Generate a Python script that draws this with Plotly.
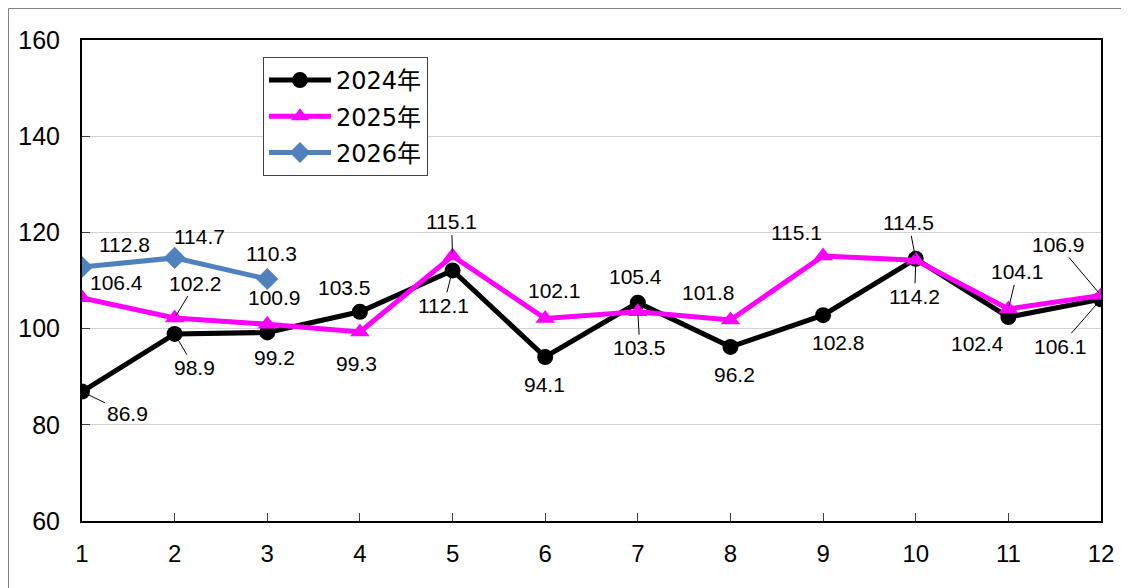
import plotly.graph_objects as go

months = [1, 2, 3, 4, 5, 6, 7, 8, 9, 10, 11, 12]
tick_labels = ["1", "2", "3", "4", "5", "6", "7", "8", "9", "10", "11", "12"]
y2024 = [86.9, 98.9, 99.2, 103.5, 112.1, 94.1, 105.4, 96.2, 102.8, 114.5, 102.4, 106.1]
y2025 = [106.4, 102.2, 100.9, 99.3, 115.1, 102.1, 103.5, 101.8, 115.1, 114.2, 104.1, 106.9]
y2026 = [112.8, 114.7, 110.3]
names = ["2024年", "2025年", "2026年"]

# label placement (pixel offsets of label centre from the point; leader flag)
off2024 = [(45, 22, 1), (20, 34, 1), (7, 25, 0), (-15, -24, 0), (-9, 35, 1), (-1, 28, 0),
           (-2, -26, 0), (4, 28, 0), (15, 27, 0), (-7, -36, 1), (-31, 26, 0), (-41, 47, 1)]
off2025 = [(34, -15, 0), (21, -35, 1), (7, -27, 0), (-3, 32, 0), (-1, -34, 1), (9, -28, 0),
           (2, 36, 1), (-22, -27, 0), (-27, -23, 0), (-1, 36, 1), (9, -37, 1), (-43, -51, 1)]
off2026 = [(42, -23, 0), (25, -21, 0), (4, -26, 0)]

fig = go.Figure()
styles = [
    dict(color="#000000", symbol="circle", size=16),
    dict(color="#FF00FF", symbol="triangle-up", size=17),
    dict(color="#4F81BD", symbol="diamond", size=17),
]
series = [y2024, y2025, y2026]
for i, (ys, st, nm) in enumerate(zip(series, styles, names)):
    fig.add_trace(go.Scatter(
        x=months[:len(ys)], y=ys, name=nm, mode="lines+markers",
        line=dict(color=st["color"], width=5),
        marker=dict(symbol=st["symbol"], size=st["size"], color=st["color"]),
        legendgroup=nm, hoverinfo="skip",
    ))

label_font = dict(family="Liberation Sans, Arial, sans-serif", size=21, color="#000000")
annotations = []
for ys, offs in zip(series, [off2024, off2025, off2026]):
    for m, v, (dx, dy, lead) in zip(months, ys, offs):
        if lead:
            annotations.append(dict(
                x=m, y=v, xref="x", yref="y", text=f"{v:.1f}", font=label_font,
                showarrow=True, arrowhead=0, arrowwidth=1, arrowcolor="#000000",
                ax=dx, ay=dy, axref="pixel", ayref="pixel", standoff=3,
            ))
        else:
            annotations.append(dict(
                x=m, y=v, xref="x", yref="y", text=f"{v:.1f}", font=label_font,
                showarrow=False, xshift=dx, yshift=-dy,
            ))

fig.update_layout(
    width=1129, height=588,
    margin=dict(l=74, r=36, t=32, b=75),
    paper_bgcolor="white", plot_bgcolor="white",
    showlegend=True,
    legend=dict(
        x=0.1776, y=0.9647, xanchor="left", yanchor="top",
        bordercolor="#404040", borderwidth=1, bgcolor="white",
        font=dict(family="DejaVu Sans, Noto Sans CJK JP, sans-serif", size=24, color="#000000"),
        tracegroupgap=2, itemwidth=62,
    ),
    annotations=annotations,
    shapes=[dict(type="rect", xref="paper", yref="paper",
                 x0=-73.5 / 1019, x1=1.3, y0=-0.4, y1=1 + 31.5 / 481,
                 line=dict(color="#808080", width=1), layer="below")],
    xaxis=dict(
        range=[1, 12], tickvals=months, ticktext=tick_labels, automargin=False,
        showgrid=False, zeroline=False,
        showline=True, linecolor="#000000", linewidth=2, mirror=True,
        ticks="inside", ticklen=8, tickcolor="#404040", tickwidth=1,
        tickfont=dict(family="Liberation Sans, Arial, sans-serif", size=24, color="#000000"),
        ticklabelstandoff=10,
    ),
    yaxis=dict(
        range=[60, 160], tickvals=[60, 80, 100, 120, 140, 160], automargin=False,
        showgrid=True, gridcolor="#d4d4d4", gridwidth=1, zeroline=False,
        showline=True, linecolor="#000000", linewidth=2, mirror=True,
        ticks="inside", ticklen=8, tickcolor="#404040", tickwidth=1,
        tickfont=dict(family="Liberation Sans, Arial, sans-serif", size=25, color="#000000"),
        ticklabelstandoff=15,
    ),
)

fig.write_html("out.html")
